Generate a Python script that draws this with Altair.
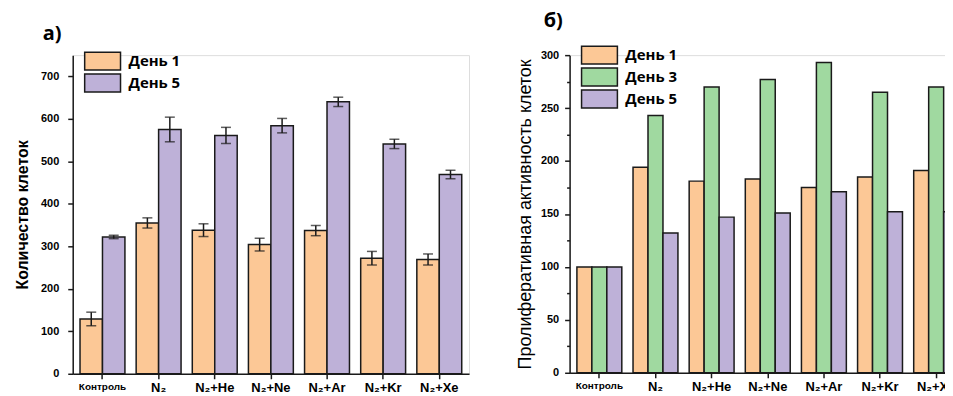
import altair as alt
import pandas as pd

categories = ["Контроль", "N₂", "N₂+He", "N₂+Ne", "N₂+Ar", "N₂+Kr", "N₂+Xe"]

# panel a) — cell count
a_series = ["День 1", "День 5"]
a_day1 = [129, 355, 338, 304, 337, 272, 269]
a_day1_err = [16, 12, 15, 15, 12, 16, 13]
a_day5 = [322, 575, 561, 584, 640, 541, 469]
a_day5_err = [4, 29, 19, 17, 11, 11, 10]

# panel б) — proliferative activity
b_series = ["День 1", "День 3", "День 5"]
b_day1 = [100, 194, 181, 183, 175, 185, 191]
b_day3 = [100, 243, 270, 277, 293, 265, 270]
b_day5 = [100, 132, 147, 151, 171, 152, 152]

a_ticks = list(range(0, 751, 50))
b_ticks = list(range(0, 301, 25))

color_map = {"День 1": "#FCC896", "День 3": "#A0D9A0", "День 5": "#BEB1D8"}

rows_a = []
for i, c in enumerate(categories):
    rows_a.append({"cat": c, "day": "День 1", "val": a_day1[i], "err": a_day1_err[i]})
    rows_a.append({"cat": c, "day": "День 5", "val": a_day5[i], "err": a_day5_err[i]})
dfa = pd.DataFrame(rows_a)
dfa["lo"] = dfa["val"] - dfa["err"]
dfa["hi"] = dfa["val"] + dfa["err"]

rows_b = []
for i, c in enumerate(categories):
    rows_b.append({"cat": c, "day": "День 1", "val": b_day1[i]})
    rows_b.append({"cat": c, "day": "День 3", "val": b_day3[i]})
    rows_b.append({"cat": c, "day": "День 5", "val": b_day5[i]})
dfb = pd.DataFrame(rows_b)

AX_FONT = "Liberation Sans"
INK = "#1a1a1a"


def x_enc():
    return alt.X(
        "cat:N", sort=categories,
        scale=alt.Scale(paddingInner=0.2, paddingOuter=0.13),
        axis=alt.Axis(
            title=None, labelAngle=0, labelFont=AX_FONT, labelFontWeight="bold",
            labelFontSize=alt.ExprRef("datum.value == 'Контроль' ? 10 : 13"),
            labelColor="black", labelPadding=3, tickSize=5, tickWidth=1.5,
            tickColor=INK, domainColor=INK, domainWidth=1.5,
        ),
    )


def legend(series, lx, ly, rp):
    return alt.Legend(
        orient="none", legendX=lx, legendY=ly, title=None,
        symbolType="M-2,-1H2V1H-2Z", symbolSize=324,
        symbolStrokeColor=INK, symbolStrokeWidth=1.5, symbolOpacity=1,
        labelFont="Open Sans", labelFontWeight="bold", labelFontSize=15,
        labelColor="black", labelOffset=16, rowPadding=rp, padding=0,
        values=series,
    )


# ---------- panel a)
ya = alt.Y(
    "val:Q", scale=alt.Scale(domain=[0, 750], nice=False),
    axis=alt.Axis(
        values=a_ticks, grid=False,
        labelExpr="datum.value % 100 == 0 ? datum.value : ''",
        tickSize=alt.ExprRef("datum.value % 100 == 0 ? 5 : 3"),
        tickWidth=1.5, tickColor=INK, domainColor=INK, domainWidth=1.5,
        labelFont=AX_FONT, labelFontWeight="bold", labelFontSize=11,
        labelColor="black", labelPadding=9,
        title="Количество клеток", titleFont=AX_FONT, titleFontWeight="bold",
        titleFontSize=16, titleColor="black", titlePadding=10,
    ),
)

bars_a = alt.Chart(dfa).mark_bar(stroke=INK, strokeWidth=1.5).encode(
    x=x_enc(),
    xOffset=alt.XOffset("day:N", sort=a_series, scale=alt.Scale(domain=a_series)),
    y=ya,
    color=alt.Color("day:N", sort=a_series,
                    scale=alt.Scale(domain=a_series, range=[color_map[s] for s in a_series]),
                    legend=legend(a_series, 20, -4, -4)),
)
err_a = alt.Chart(dfa).mark_rule(color=INK, strokeWidth=1.5).encode(
    x=alt.X("cat:N", sort=categories),
    xOffset=alt.XOffset("day:N", sort=a_series),
    y="lo:Q", y2="hi:Q",
)
cap_hi = alt.Chart(dfa).mark_tick(color=INK, thickness=1.5, size=10).encode(
    x=alt.X("cat:N", sort=categories),
    xOffset=alt.XOffset("day:N", sort=a_series),
    y="hi:Q",
)
cap_lo = alt.Chart(dfa).mark_tick(color=INK, thickness=1.5, size=10).encode(
    x=alt.X("cat:N", sort=categories),
    xOffset=alt.XOffset("day:N", sort=a_series),
    y="lo:Q",
)

panel_a = alt.layer(bars_a, err_a, cap_hi, cap_lo).properties(
    width=398, height=320,
    title=alt.TitleParams("а)", anchor="start", frame="group", dx=-30, dy=3, offset=10,
                          fontSize=20, font="Open Sans", fontWeight="bold", color="black"),
).resolve_scale(color="independent")

# ---------- panel б)
yb = alt.Y(
    "val:Q", scale=alt.Scale(domain=[0, 300], nice=False),
    axis=alt.Axis(
        values=b_ticks, grid=False,
        labelExpr="datum.value % 50 == 0 ? datum.value : ''",
        tickSize=alt.ExprRef("datum.value % 50 == 0 ? 5 : 3"),
        tickWidth=1.5, tickColor=INK, domainColor=INK, domainWidth=1.5,
        labelFont=AX_FONT, labelFontWeight="bold", labelFontSize=11,
        labelColor="black", labelPadding=6,
        title="Пролиферативная активность клеток", titleFont=AX_FONT,
        titleFontWeight="normal", titleFontSize=18, titleColor="black", titlePadding=6,
    ),
)

bars_b = alt.Chart(dfb).mark_bar(stroke=INK, strokeWidth=1.5).encode(
    x=x_enc(),
    xOffset=alt.XOffset("day:N", sort=b_series, scale=alt.Scale(domain=b_series)),
    y=yb,
    color=alt.Color("day:N", sort=b_series,
                    scale=alt.Scale(domain=b_series, range=[color_map[s] for s in b_series]),
                    legend=legend(b_series, 20, -10, -4)),
)

panel_b = bars_b.properties(
    width=398, height=319,
    title=alt.TitleParams("б)", anchor="start", frame="group", dx=-26, offset=14.5,
                          fontSize=20, font="Open Sans", fontWeight="bold", color="black"),
)

chart = alt.hconcat(panel_a, panel_b, spacing=101, bounds="flush").resolve_scale(
    color="independent", y="independent", xOffset="independent"
).properties(
    padding={"left": 6, "top": 1.5, "right": -22, "bottom": 0},
).configure_view(stroke=None).configure(background="white")

chart.save("out.html", embed_options={"renderer": "svg", "actions": False})
